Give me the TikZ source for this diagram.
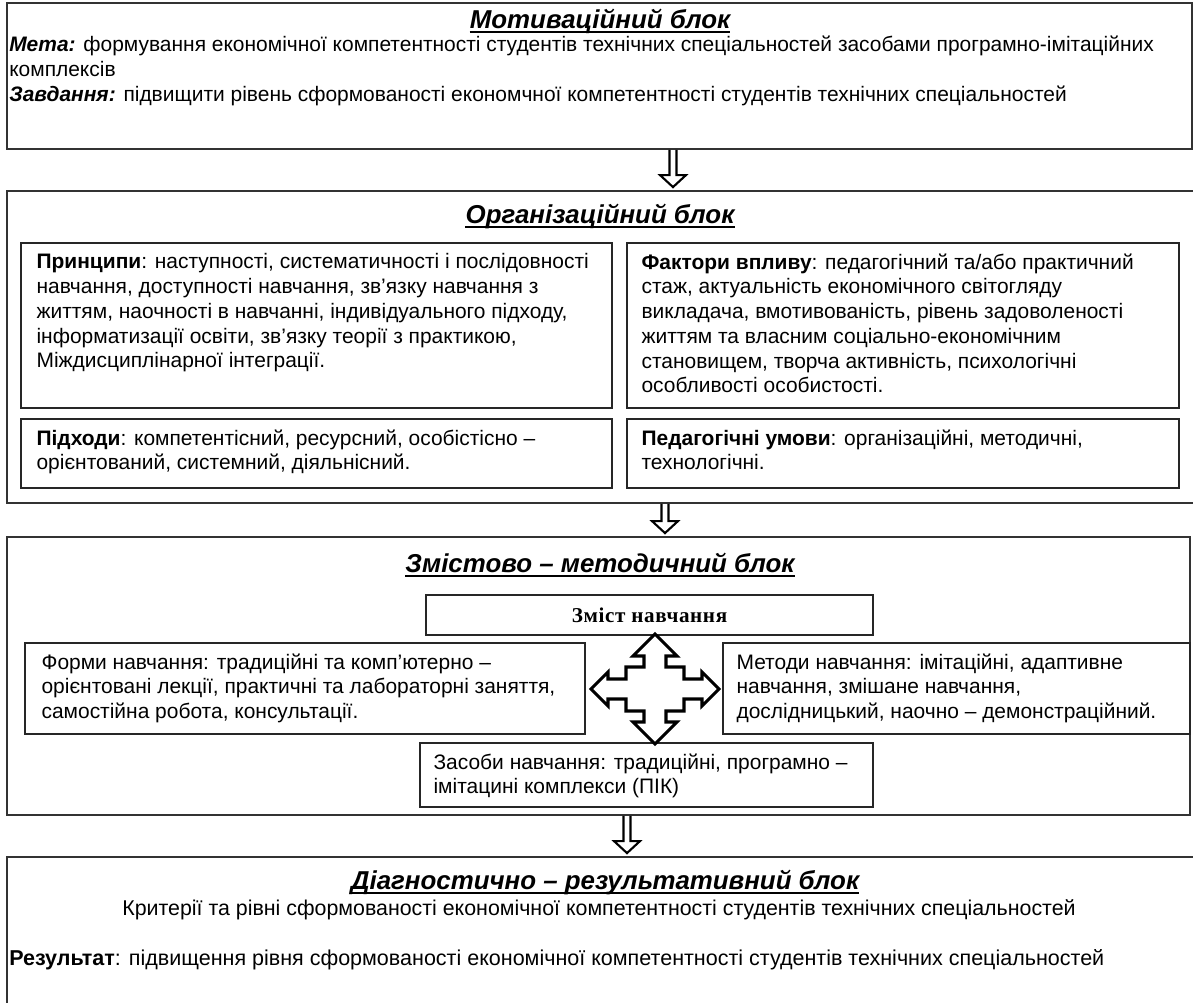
\documentclass[tikz,border=0pt]{standalone}
\usepackage{fontspec}
\setmainfont{Liberation Sans}
\newfontfamily\zmistfont[LetterSpace=3]{Liberation Serif}
\usetikzlibrary{fit,calc}

\begin{document}
\begin{tikzpicture}[x=0.025cm, y=-0.025cm,
        outer/.style={draw=black!80, line width=1.3pt, inner sep=0pt},
        box/.style={draw=black!85, line width=1pt, inner sep=0pt},
        txt/.style={anchor=north west, align=left, inner sep=0pt,
            font=\fontsize{14.9}{17.6}\selectfont},
        heading/.style={anchor=base, inner sep=0pt,
            font=\fontsize{18.4}{20}\selectfont\bfseries\itshape},
        uline/.style={line width=1.1pt},
        hollow/.style={line width=1.5pt, line join=miter, to path={
            ($(\tikztostart)+(-3.5,0)$) -- ($(\tikztotarget)+(-3.5,-15)$)
            -- ($(\tikztotarget)+(-13,-15)$) -- ($(\tikztotarget)+(0,-3)$)
            -- ($(\tikztotarget)+(13,-15)$) -- ($(\tikztotarget)+(3.5,-15)$)
            -- ($(\tikztostart)+(3.5,0)$)}},
        quad/.style={draw=black, fill=white, line width=2.2pt, line join=miter}]
    \useasboundingbox (0,0) rectangle (1193,1003);

    % blocks
    \node[outer, fit={(7,3) (1192,149)}] (mot) {};
    \node[outer, fit={(7,191) (1198,503)}] (org) {};
    \node[outer, fit={(7,537) (1190,815)}] (zms) {};
    \node[outer, fit={(7,857) (1198,1008)}] (dia) {};

    % motivation block
    \node[heading] (motT) at (600,29) {Мотиваційний блок};
    \node[txt] (motX) at (9,36) {\textbf{\textit{Мета:}} формування економічної компетентності студентів технічних спеціальностей засобами програмно-імітаційних\\
        комплексів\\
        \textbf{\textit{Завдання:}} підвищити рівень сформованості економчної компетентності студентів технічних спеціальностей};

    % organisation block
    \node[heading] (orgT) at (600,224) {Організаційний блок};
    \node[box, fit={(21,243) (612,408)}] (prn) {};
    \node[box, fit={(627,243) (1179,408)}] (fkt) {};
    \node[box, fit={(21,419) (612,488)}] (pdh) {};
    \node[box, fit={(627,419) (1179,488)}] (umv) {};
    \node[txt] (prnX) at ($(prn.north west)+(16,11)$) {\textbf{Принципи}: наступності, систематичності і послідовності\\
        навчання, доступності навчання, зв'язку навчання з\\
        життям, наочності в навчанні, індивідуального підходу,\\
        інформатизації освіти, зв'язку теорії з практикою,\\
        Міждисциплінарної інтеграції.};
    \node[txt] (fktX) at ($(fkt.north west)+(15,11)$) {\textbf{Фактори впливу}: педагогічний та/або практичний\\
        стаж, актуальність економічного світогляду\\
        викладача, вмотивованість, рівень задоволеності\\
        життям та власним соціально-економічним\\
        становищем, творча активність, психологічні\\
        особливості особистості.};
    \node[txt] (pdhX) at ($(pdh.north west)+(16,11)$) {\textbf{Підходи}: компетентісний, ресурсний, особістісно –\\
        орієнтований, системний, діяльнісний.};
    \node[txt] (umvX) at ($(umv.north west)+(15,11)$) {\textbf{Педагогічні умови}: організаційні, методичні,\\
        технологічні.};

    % content block
    \node[heading] (zmsT) at (600,573) {Змістово – методичний блок};
    \node[box, fit={(426,595) (873,635)}] (zmi) {};
    \node[inner sep=0pt, font=\zmistfont\bfseries\fontsize{15}{16}\selectfont] (zmiX) at (zmi) {Зміст навчання};
    \node[box, fit={(25,643) (585,734)}] (frm) {};
    \node[box, fit={(723,643) (1190,734)}] (mtd) {};
    \node[box, fit={(420,743) (873,807)}] (zsb) {};
    \node[txt] (frmX) at ($(frm.north west)+(17,11)$) {Форми навчання: традиційні та комп'ютерно –\\
        орієнтовані лекції, практичні та лабораторні заняття,\\
        самостійна робота, консультації.};
    \node[txt] (mtdX) at ($(mtd.north west)+(14,11)$) {Методи навчання: імітаційні, адаптивне\\
        навчання, змішане навчання,\\
        дослідницький, наочно – демонстраційний.};
    \node[txt] (zsbX) at ($(zsb.north west)+(14,11)$) {Засоби навчання: традиційні, програмно –\\
        імітацині комплекси (ПІК)};

    % four-way arrow
    \begin{scope}[shift={(655,689)}]
        \draw[quad] (0,-55) -- (22,-33) -- (11,-33) -- (11,-22) -- (29,-22)
            -- (29,-10) -- (47,-10) -- (47,-17) -- (64,0) -- (47,17) -- (47,10)
            -- (29,10) -- (29,22) -- (11,22) -- (11,33) -- (22,33) -- (0,55)
            -- (-22,33) -- (-11,33) -- (-11,22) -- (-29,22) -- (-29,10)
            -- (-47,10) -- (-47,17) -- (-64,0) -- (-47,-17) -- (-47,-10)
            -- (-29,-10) -- (-29,-22) -- (-11,-22) -- (-11,-33) -- (-22,-33)
            -- cycle;
    \end{scope}

    % diagnostic block
    \node[heading] (diaT) at (605,890) {Діагностично – результативний блок};
    \node[inner sep=0pt, font=\fontsize{15.2}{17.6}\selectfont] (krt) at (599,910)
        {Критерії та рівні сформованості економічної компетентності студентів технічних спеціальностей};
    \node[txt, font=\fontsize{15.3}{17.6}\selectfont] (rez) at (9,949)
        {\textbf{Результат}: підвищення рівня сформованості економічної компетентності студентів технічних спеціальностей};

    % title underlines
    \draw[uline] ($(motT.base west)+(0,3)$) -- ($(motT.base east)+(0,3)$);
    \draw[uline] ($(orgT.base west)+(0,3)$) -- ($(orgT.base east)+(0,3)$);
    \draw[uline] ($(zmsT.base west)+(0,3)$) -- ($(zmsT.base east)+(0,3)$);
    \draw[uline] ($(diaT.base west)+(0,3)$) -- ($(diaT.base east)+(0,3)$);

    % arrows between blocks
    \coordinate (a1) at (673,0);
    \coordinate (a2) at (665,0);
    \coordinate (a3) at (627,0);
    \draw[hollow] (mot.south -| a1) to (org.north -| a1);
    \draw[hollow] (org.south -| a2) to (zms.north -| a2);
    \draw[hollow] (zms.south -| a3) to (dia.north -| a3);
\end{tikzpicture}
\end{document}
